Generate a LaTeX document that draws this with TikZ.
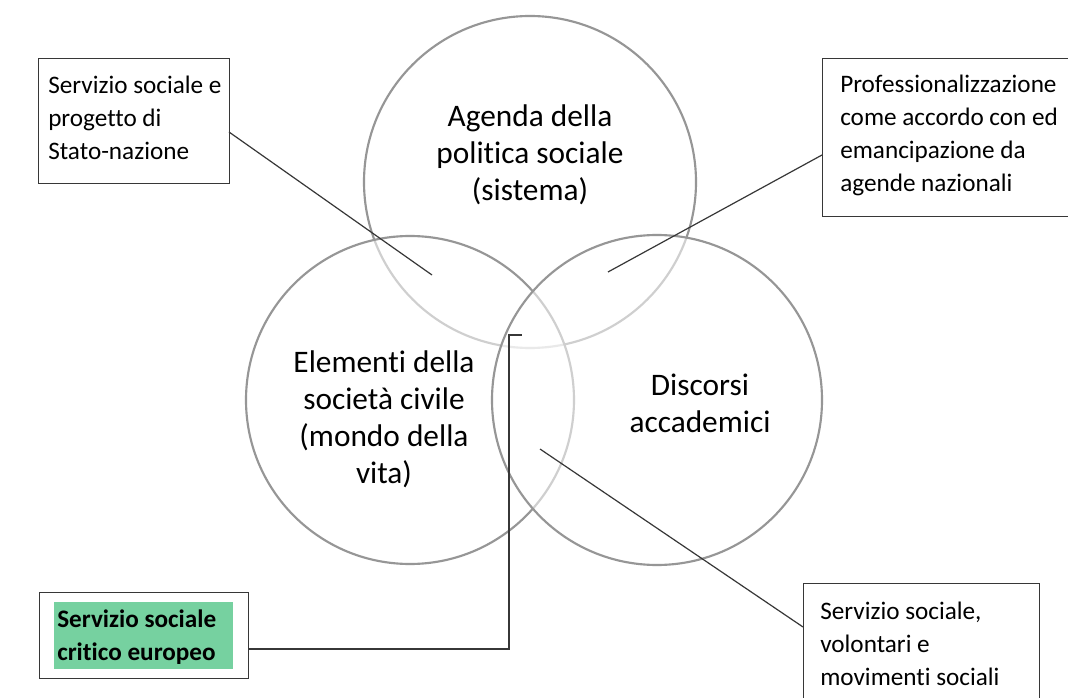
\documentclass[tikz,border=0pt]{standalone}
\usepackage{fontspec}
\setmainfont{Carlito}[Ligatures=NoCommon]
\definecolor{circ}{RGB}{150,150,150}
\definecolor{lin}{RGB}{55,55,55}
\definecolor{grn}{RGB}{118,209,160}
\begin{document}
\begin{tikzpicture}[x=0.75pt,y=-0.75pt,
  circ/.style={draw=circ,line width=1.6pt},
  ovl/.style={circ,fill=white,fill opacity=0.55},
  box/.style={draw=lin,line width=1.1pt,fill=white,inner sep=0pt,anchor=north west},
  btext/.style={font=\fontsize{18.9}{24.75}\selectfont,align=left,inner sep=0pt,anchor=north west},
  ctext/.style={font=\fontsize{23.5}{27.75}\selectfont,align=center,inner sep=0pt},
  conn/.style={draw=lin,line width=0.9pt}]
\clip (0,0) rectangle (1068,698);
\fill[white] (0,0) rectangle (1068,698);
% circles
\draw[circ] (530,182) circle[radius=166*0.75pt];
\draw[ovl] (410,400) circle[radius=164*0.75pt];
\draw[ovl] (657,400) circle[radius=165*0.75pt];
\node[ctext] (ctop) at (530,155) {Agenda della\\politica sociale\\(sistema)};
\node[ctext] (cleft) at (384,419) {Elementi della\\società civile\\(mondo della\\vita)};
\node[ctext] (cright) at (700,403) {Discorsi\\accademici};
% boxes
\node[box,minimum width=191*0.75pt,minimum height=125*0.75pt] (tl) at (38,58) {};
\node[btext] (tltext) at (48,76) {Servizio sociale e\\progetto di\\Stato-nazione};
\node[box,minimum width=260*0.75pt,minimum height=158*0.75pt] (tr) at (822,58) {};
\node[btext] (trtext) at (840,75) {Professionalizzazione\\come accordo con ed\\emancipazione da\\agende nazionali};
\node[box,minimum width=209*0.75pt,minimum height=86*0.75pt] (bl) at (39,592) {};
\fill[grn] (54,602) rectangle (233,669);
\node[btext,font=\fontsize{18.9}{24.75}\selectfont\bfseries] (bltext) at (57,610) {Servizio sociale\\critico europeo};
\node[box,minimum width=236*0.75pt,minimum height=130*0.75pt] (br) at (803,583) {};
\node[btext] (brtext) at (820,602) {Servizio sociale,\\volontari e\\movimenti sociali};
% connectors
\coordinate (p1) at (432,275);
\coordinate (p2) at (608,272);
\coordinate (p3) at (540,449);
\coordinate (p4) at (522,335);
\coordinate (tlA) at (229,132);
\coordinate (trA) at (822,155);
\coordinate (brA) at (803,627);
\coordinate (blA) at (248,649);
\draw[conn] (tlA) -- (p1);
\draw[conn] (trA) -- (p2);
\draw[conn] (brA) -- (p3);
\draw[conn] (blA) -| (509,335) -- (p4);
\end{tikzpicture}
\end{document}
